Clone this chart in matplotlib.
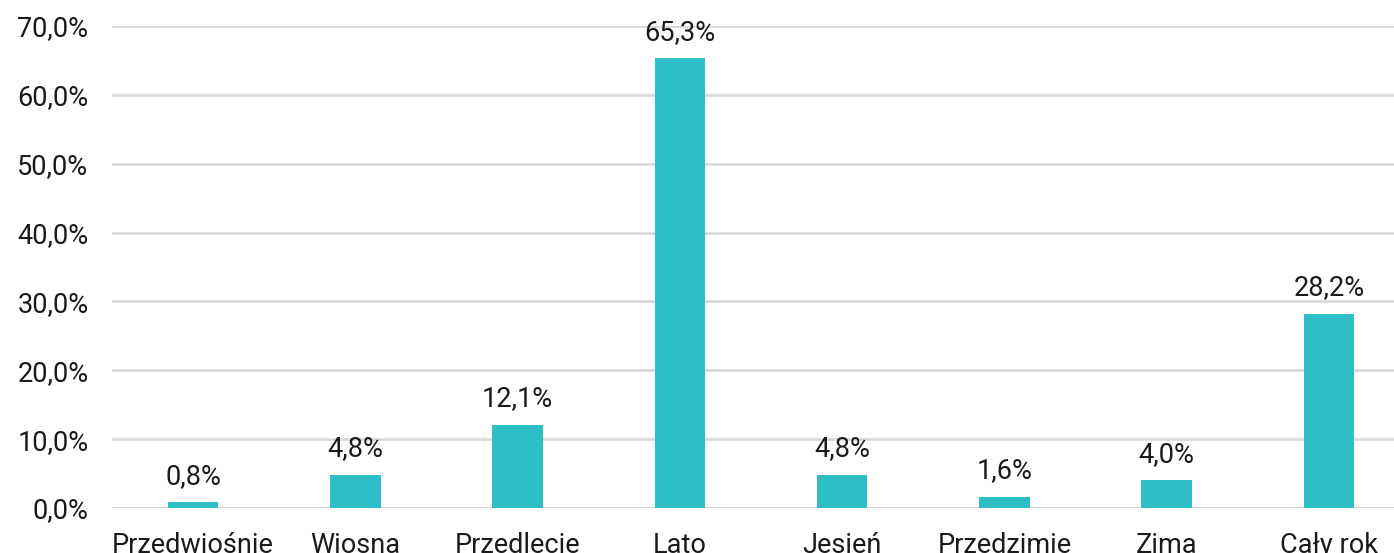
import matplotlib
matplotlib.use("Agg")
import matplotlib.pyplot as plt
from matplotlib.ticker import FuncFormatter

categories = ["Przedwiośnie", "Wiosna", "Przedlecie", "Lato", "Jesień",
              "Przedzimie", "Zima", "Cały rok"]
values = [0.8, 4.8, 12.1, 65.3, 4.8, 1.6, 4.0, 28.2]
y_ticks = [0, 10, 20, 30, 40, 50, 60, 70]

plt.rcParams["font.family"] = ["Roboto", "DejaVu Sans"]

fig = plt.figure(figsize=(13.94, 5.53), dpi=100)
ax = fig.add_axes([112 / 1394, 45 / 553, 1298 / 1394, 482 / 553])

bar_color = "#2EBEC5"
x = list(range(len(categories)))
bars = ax.bar(x, values, width=0.31, color=bar_color, zorder=3)

def pct(v, _=None):
    return f"{v:.1f}%".replace(".", ",")

fs = 19.5
for b, v in zip(bars, values):
    ax.annotate(pct(v), (b.get_x() + b.get_width() / 2, v),
                xytext=(0, 9), textcoords="offset points",
                ha="center", va="bottom", fontsize=fs, color="#1a1a1a")

ax.set_xlim(-0.5, len(categories) - 0.5)
ax.set_ylim(0, 70)
ax.set_yticks(y_ticks)
ax.yaxis.set_major_formatter(FuncFormatter(pct))
ax.set_xticks(x)
ax.set_xticklabels(categories)
ax.tick_params(axis="y", length=0, pad=17, labelsize=fs, labelcolor="#1a1a1a")
ax.tick_params(axis="x", length=0, pad=17, labelsize=fs, labelcolor="#1a1a1a")

ax.grid(axis="y", color="#d9d9d9", linewidth=2, zorder=0)
for s in ax.spines.values():
    s.set_visible(False)
ax.axhline(0, color="#d9d9d9", linewidth=2, zorder=2)

fig.savefig("out.png", dpi=100)
